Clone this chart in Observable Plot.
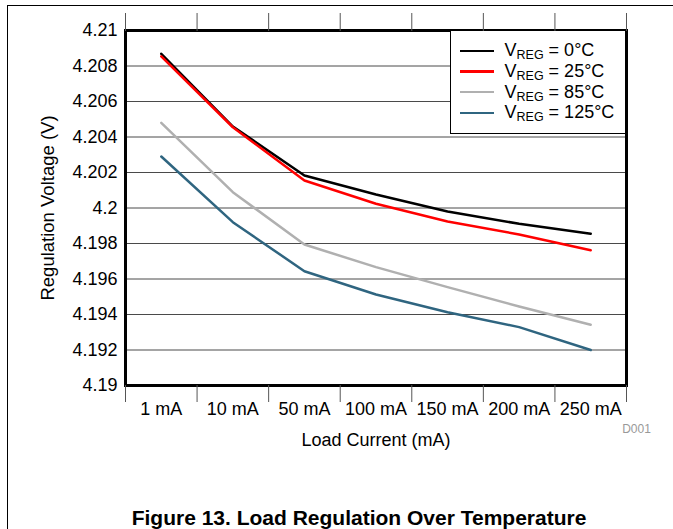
<!DOCTYPE html>
<html>
<head>
<meta charset="utf-8">
<script src="https://cdn.jsdelivr.net/npm/d3@7"></script>
<script src="https://cdn.jsdelivr.net/npm/@observablehq/plot@0.6"></script>
<style>
  body { margin: 0; background: #fff; font-family: "Liberation Sans", Arial, sans-serif; }
  #wrap { position: relative; width: 673px; height: 529px; overflow: hidden; }
  #outer { position: absolute; left: 7px; top: 5px; width: 700px; height: 600px;
           border-left: 1.5px solid #000; border-top: 1.5px solid #000; pointer-events: none; }
  #legend { position: absolute; left: 450px; top: 31px; width: 174.5px; height: 103px;
            box-sizing: border-box; background: #fff; border-left: 1.5px solid #000;
            border-bottom: 1.5px solid #000; padding-top: 9.5px; }
  .row { display: flex; align-items: center; height: 20.7px; font-size: 18px; color: #000; white-space: nowrap; }
  .swatch { display: inline-block; width: 34px; height: 2.5px; margin-left: 8.5px; margin-right: 11px; }
  .row sub { font-size: 12.5px; vertical-align: -3px; line-height: 0; }
</style>
</head>
<body>
<div id="wrap">
  <div id="chart"></div>
  <div id="outer"></div>
  <div id="legend"></div>
</div>
<script>
// ---- data ----
const currents = ["1 mA", "10 mA", "50 mA", "100 mA", "150 mA", "200 mA", "250 mA"];
const seriesLabels = ["0°C", "25°C", "85°C", "125°C"];
const seriesColors = ["#000000", "#ff0000", "#b0b0b0", "#2f6580"];
const v0   = [4.20869, 4.20459, 4.20183, 4.20076, 4.19980, 4.19911, 4.19855];
const v25  = [4.20854, 4.20455, 4.20155, 4.20024, 4.19924, 4.19851, 4.19762];
const v85  = [4.20480, 4.20089, 4.19794, 4.19667, 4.19554, 4.19445, 4.19342];
const v125 = [4.20290, 4.19920, 4.19644, 4.19513, 4.19413, 4.19329, 4.19200];
const yTicks = [4.19, 4.192, 4.194, 4.196, 4.198, 4.2, 4.202, 4.204, 4.206, 4.208, 4.21];
const xTitle = "Load Current (mA)";
const yTitle = "Regulation Voltage (V)";
const caption = "Figure 13. Load Regulation Over Temperature";
const code = "D001";

// ---- table ----
const seriesValues = [v0, v25, v85, v125];
const data = seriesLabels.flatMap((s, k) =>
  currents.map((c, i) => ({ series: s, i, current: c, v: seriesValues[k][i] })));
const centers = currents.map((_, i) => i);
const boundaries = currents.map((_, i) => i - 0.5).concat([currents.length - 0.5]);

const font = "'Liberation Sans', Arial, sans-serif";

const chart = Plot.plot({
  width: 673,
  height: 529,
  marginLeft: 125,
  marginRight: 47,
  marginTop: 30,
  marginBottom: 144,
  style: { fontFamily: font, background: "#fff", color: "#000" },
  x: { type: "linear", domain: [-0.5, currents.length - 0.5], label: null },
  y: { domain: [4.19, 4.21], label: null },
  color: { domain: seriesLabels, range: seriesColors },
  marks: [
    Plot.gridY({ ticks: yTicks, stroke: "#4a4a4a", strokeOpacity: 1, strokeWidth: 1 }),
    Plot.line(data, { x: "i", y: "v", z: "series", stroke: "series", strokeWidth: 2.5 }),
    Plot.frame({ stroke: "#000", strokeWidth: 3 }),
    Plot.axisY({ ticks: yTicks, tickSize: 0, tickPadding: 8, fontSize: 18, label: null,
                 tickFormat: d => String(+d.toFixed(3)) }),
    Plot.axisX({ anchor: "bottom", ticks: boundaries, tickSize: 17, stroke: "#555",
                 tickFormat: () => "", label: null }),
    Plot.axisX({ anchor: "top", ticks: boundaries, tickSize: 18, stroke: "#555",
                 tickFormat: () => "", label: null }),
    Plot.axisX({ anchor: "bottom", ticks: centers, tickSize: 0, tickPadding: 17, fontSize: 18,
                 tickFormat: i => currents[i], label: null }),
    Plot.text([yTitle], { text: d => d, frameAnchor: "left", dx: -77, rotate: -90, fontSize: 18.5,
                          textAnchor: "middle", lineAnchor: "middle" }),
    Plot.text([xTitle], { text: d => d, frameAnchor: "bottom", dy: 55, fontSize: 18,
                          textAnchor: "middle", lineAnchor: "middle" }),
    Plot.text([code], { text: d => d, frameAnchor: "bottom-right", dx: 10, dy: 44, fontSize: 12, fill: "#999",
                        textAnchor: "middle", lineAnchor: "middle" }),
    Plot.text([caption], { text: d => d, frameAnchor: "bottom", dx: -17, dy: 133, fontSize: 21, fontWeight: "bold",
                           textAnchor: "middle", lineAnchor: "middle" })
  ]
});
document.getElementById("chart").appendChild(chart);

// ---- legend ----
const legend = d3.select("#legend");
seriesLabels.forEach((s, k) => {
  const row = legend.append("div").attr("class", "row");
  row.append("span").attr("class", "swatch").style("background", seriesColors[k]);
  const t = row.append("span");
  t.append("span").text("V");
  t.append("sub").text("REG");
  t.append("span").text(" = " + s);
});
</script>
</body>
</html>
